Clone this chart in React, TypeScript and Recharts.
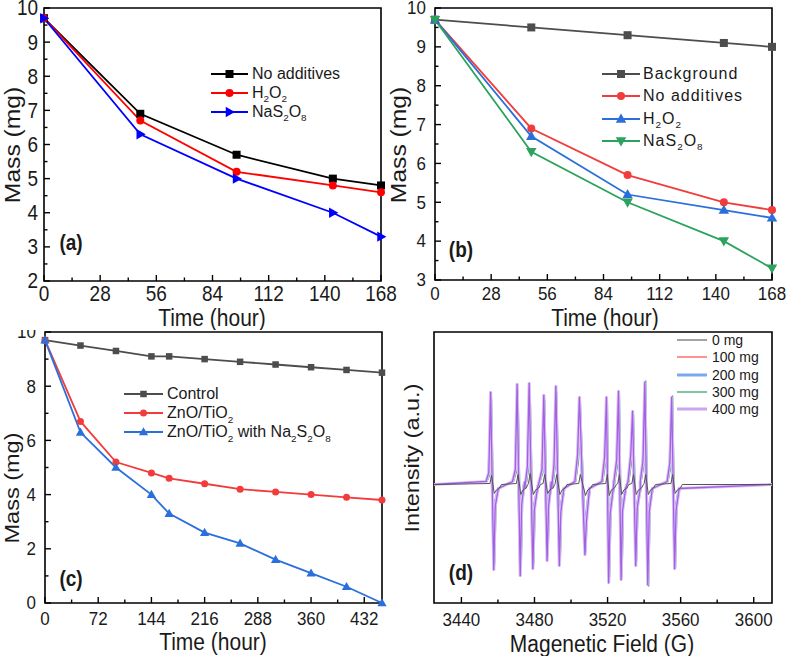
import React from 'react';
import { LineChart, Line, XAxis, YAxis, Legend, ReferenceArea, Label } from 'recharts';

const FONT = "'Liberation Sans', Arial, Helvetica, sans-serif";
const STRETCH = 1.12;

// ---------- Panel (a) ----------
const timeA = [0, 48, 96, 144, 168];
const noAdditivesA = [9.7, 6.9, 5.7, 5.0, 4.8];
const h2o2A = [9.7, 6.7, 5.2, 4.8, 4.6];
const nas2o8A = [9.7, 6.3, 5.0, 4.0, 3.3];
const xTicksAB = [0, 28, 56, 84, 112, 140, 168];
const xMinorAB = [14, 42, 70, 98, 126, 154];
const yTicksA = [2, 3, 4, 5, 6, 7, 8, 9, 10];
const yMinorA = [2.5, 3.5, 4.5, 5.5, 6.5, 7.5, 8.5, 9.5];
const legendA = ['No additives', 'H_2O_2', 'NaS_2O_8'];

// ---------- Panel (b) ----------
const timeB = [0, 48, 96, 144, 168];
const backgroundB = [9.7, 9.5, 9.3, 9.1, 9.0];
const noAdditivesB = [9.7, 6.9, 5.7, 5.0, 4.8];
const h2o2B = [9.7, 6.7, 5.2, 4.8, 4.6];
const nas2o8B = [9.7, 6.3, 5.0, 4.0, 3.3];
const yTicksB = [3, 4, 5, 6, 7, 8, 9, 10];
const yMinorB = [3.5, 4.5, 5.5, 6.5, 7.5, 8.5, 9.5];
const legendB = ['Background', 'No additives', 'H_2O_2', 'NaS_2O_8'];

// ---------- Panel (c) ----------
const timeC = [0, 48, 96, 144, 168, 216, 264, 312, 360, 408, 456];
const controlC = [9.7, 9.5, 9.3, 9.1, 9.1, 9.0, 8.9, 8.8, 8.7, 8.6, 8.5];
const znoTioC = [9.7, 6.7, 5.2, 4.8, 4.6, 4.4, 4.2, 4.1, 4.0, 3.9, 3.8];
const znoTioNaC = [9.7, 6.3, 5.0, 4.0, 3.3, 2.6, 2.2, 1.6, 1.1, 0.6, 0.0];
const xTicksC = [0, 72, 144, 216, 288, 360, 432];
const xMinorC = [36, 108, 180, 252, 324, 396];
const yTicksC = [0, 2, 4, 6, 8, 10];
const yMinorC = [1, 3, 5, 7, 9];
const legendC = ['Control', 'ZnO/TiO_2', 'ZnO/TiO_2 with Na_2S_2O_8'];

// ---------- Panel (d) EPR ----------
const eprUpField400 = [3456.0, 3470.5, 3477.1, 3485.1, 3491.7, 3504.6, 3519.4, 3526.0, 3533.7, 3540.4, 3555.1];
const eprDownField400 = [3457.7, 3472.2, 3479.1, 3486.9, 3493.6, 3507.6, 3520.6, 3527.4, 3535.4, 3542.0, 3556.7];
const eprUp400 = [9.3, 10.1, 10.2, 9.0, 9.9, 8.8, 8.8, 9.4, 7.4, 10.3, 8.8];
const eprDown400 = [-8.6, -9.2, -8.5, -7.7, -8.2, -7.1, -9.9, -9.6, -8.2, -10.1, -8.5];
const eprPre400 = [1.2, 1.5, 1.8, 1.5, 2.0, 3.0, 2.8, 2.5, 3.0, 2.4, 2.2];
const eprPost400 = [-2.2, -2.0, -2.6, -2.2, -2.8, -3.8, -3.0, -2.6, -2.4, -2.8, -2.6];

const eprUpField300 = [3456.5, 3471.0, 3477.6, 3485.6, 3492.2, 3505.1, 3519.9, 3526.5, 3534.2, 3540.9, 3555.6];
const eprDownField300 = [3458.2, 3472.7, 3479.6, 3487.4, 3494.1, 3508.1, 3521.1, 3527.9, 3535.9, 3542.5, 3557.2];
const eprUp300 = [8.6, 9.5, 9.6, 8.5, 9.2, 8.3, 8.4, 9.0, 7.0, 10.4, 8.9];
const eprDown300 = [-8.0, -8.7, -8.0, -7.2, -7.9, -6.8, -9.3, -9.3, -7.7, -10.2, -8.3];

const eprUpField200 = [3455.7, 3470.2, 3476.8, 3484.8, 3491.4, 3504.3, 3519.1, 3525.7, 3533.4, 3540.1, 3554.8];
const eprDownField200 = [3457.4, 3471.9, 3478.8, 3486.6, 3493.3, 3507.3, 3520.3, 3527.1, 3535.1, 3541.7, 3556.4];
const eprUp200 = [7.2, 7.9, 8.4, 7.1, 8.0, 7.0, 7.3, 7.9, 6.0, 8.8, 7.5];
const eprDown200 = [-7.0, -8.0, -7.2, -6.2, -7.0, -6.0, -8.0, -7.9, -6.5, -8.8, -7.2];

const eprUpField100 = [3456.3, 3470.8, 3477.4, 3485.4, 3492.0, 3504.9, 3519.7, 3526.3, 3534.0, 3540.7, 3555.4];
const eprDownField100 = [3458.0, 3472.5, 3479.4, 3487.2, 3493.9, 3507.9, 3520.9, 3527.7, 3535.7, 3542.3, 3557.0];
const eprUp100 = [6.9, 7.6, 8.0, 6.8, 7.7, 6.6, 7.0, 7.5, 5.6, 8.4, 7.2];
const eprDown100 = [-6.7, -7.6, -6.9, -5.9, -6.7, -5.7, -7.7, -7.5, -6.1, -8.4, -6.9];

const eprPreLow = [1.0, 1.2, 1.4, 1.2, 1.6, 2.4, 2.2, 2.0, 2.4, 2.0, 1.8];
const eprPostLow = [-1.8, -1.7, -2.1, -1.8, -2.3, -3.0, -2.5, -2.2, -2.0, -2.3, -2.1];

const eprUp0 = [0.9, 1.0, 1.1, 1.0, 1.0, 1.0, 1.0, 1.0, 1.0, 1.0, 1.0];
const eprDown0 = [-0.9, -1.0, -1.0, -0.9, -1.0, -1.1, -1.1, -1.0, -1.0, -1.0, -0.9];

const eprRange = [3425, 3610];
const xTicksD = [3440, 3480, 3520, 3560, 3600];
const xMinorD = [3460, 3500, 3540, 3580];
const legendD = ['0 mg', '100 mg', '200 mg', '300 mg', '400 mg'];

// ---------- data builders ----------
type Pt = { x: number; y: number };
function buildSpectrum(upF: number[], downF: number[], up: number[], down: number[], pre: number[], post: number[]): Pt[] {
  const pts: Pt[] = [{ x: eprRange[0], y: 0 }];
  upF.forEach((f, i) => {
    const d = downF[i];
    pts.push({ x: f - 2.5, y: 0.3 }, { x: f - 1, y: pre[i] }, { x: f, y: up[i] }, { x: d, y: down[i] }, { x: d + 0.8, y: post[i] }, { x: d + 2.5, y: -0.4 });
  });
  pts.push({ x: eprRange[1], y: 0 });
  return pts.sort((a, b) => a.x - b.x);
}
function buildSmall(upF: number[], downF: number[], up: number[], down: number[]): Pt[] {
  const pts: Pt[] = [{ x: eprRange[0], y: 0 }];
  upF.forEach((f, i) => {
    const d = downF[i];
    pts.push({ x: f - 0.4, y: 0.1 }, { x: f + 0.5, y: up[i] }, { x: d + 0.3, y: down[i] }, { x: d + 1.5, y: -0.55 }, { x: d + 3.2, y: -0.35 }, { x: d + 4.2, y: 0 });
  });
  pts.push({ x: eprRange[1], y: 0 });
  return pts.sort((a, b) => a.x - b.x);
}

const spec400 = buildSpectrum(eprUpField400, eprDownField400, eprUp400, eprDown400, eprPre400, eprPost400);
const spec300 = buildSpectrum(eprUpField300, eprDownField300, eprUp300, eprDown300, eprPreLow, eprPostLow);
const spec200 = buildSpectrum(eprUpField200, eprDownField200, eprUp200, eprDown200, eprPreLow, eprPostLow);
const spec100 = buildSpectrum(eprUpField100, eprDownField100, eprUp100, eprDown100, eprPreLow, eprPostLow);
const spec0 = buildSmall(eprUpField400, eprDownField400, eprUp0, eprDown0);

const rowsA = timeA.map((t, i) => ({ t, s1: noAdditivesA[i], s2: h2o2A[i], s3: nas2o8A[i] }));
const rowsB = timeB.map((t, i) => ({ t, s0: backgroundB[i], s1: noAdditivesB[i], s2: h2o2B[i], s3: nas2o8B[i] }));
const rowsC = timeC.map((t, i) => ({ t, s1: controlC[i], s2: znoTioC[i], s3: znoTioNaC[i] }));

// ---------- helpers ----------
type Shape = 'square' | 'circle' | 'triUp' | 'triDown' | 'triRight';
function Marker({ cx, cy, shape, size, color }: { cx: number; cy: number; shape: Shape; size: number; color: string }) {
  const s = size;
  if (shape === 'square') return <rect x={cx - s / 2} y={cy - s / 2} width={s} height={s} fill={color} />;
  if (shape === 'circle') return <circle cx={cx} cy={cy} r={s / 2} fill={color} />;
  if (shape === 'triUp') return <polygon points={`${cx},${cy - s * 0.6} ${cx - s * 0.58},${cy + s * 0.42} ${cx + s * 0.58},${cy + s * 0.42}`} fill={color} />;
  if (shape === 'triDown') return <polygon points={`${cx},${cy + s * 0.6} ${cx - s * 0.58},${cy - s * 0.42} ${cx + s * 0.58},${cy - s * 0.42}`} fill={color} />;
  return <polygon points={`${cx + s * 0.6},${cy} ${cx - s * 0.42},${cy - s * 0.58} ${cx - s * 0.42},${cy + s * 0.58}`} fill={color} />;
}
const makeDot = (shape: Shape, size: number, color: string) => (p: any) => (
  <Marker key={`dot-${p.index}`} cx={p.cx} cy={p.cy} shape={shape} size={size} color={color} />
);

const xTick = (majors: number[], fs: number, off: number) => (p: any) => {
  const v = p.payload.value;
  const major = majors.indexOf(v) >= 0;
  return (
    <g>
      <line x1={p.x} x2={p.x} y1={p.y} y2={p.y - (major ? 6 : 3.5)} stroke="#000" strokeWidth={1.4} />
      {major ? (
        <text transform={`translate(${p.x},${p.y + off}) scale(1,${STRETCH})`} x={0} y={0} textAnchor="middle" dominantBaseline="central" fontSize={fs} fontFamily={FONT} fill="#1a1a1a">
          {v}
        </text>
      ) : null}
    </g>
  );
};
const yTick = (majors: number[], fs: number, off: number) => (p: any) => {
  const v = p.payload.value;
  const major = majors.indexOf(v) >= 0;
  return (
    <g>
      <line x1={p.x} x2={p.x + (major ? 6 : 3.5)} y1={p.y} y2={p.y} stroke="#000" strokeWidth={1.4} />
      {major ? (
        <text transform={`translate(${p.x - off},${p.y}) scale(1,${STRETCH})`} x={0} y={0} textAnchor="end" dominantBaseline="central" fontSize={fs} fontFamily={FONT} fill="#1a1a1a">
          {v}
        </text>
      ) : null}
    </g>
  );
};
const hTitle = (text: string, x: number, y: number, fs: number) => () => (
  <text transform={`translate(${x},${y}) scale(1,${STRETCH})`} x={0} y={0} textAnchor="middle" dominantBaseline="central" fontSize={fs} fontFamily={FONT} fill="#1a1a1a">
    {text}
  </text>
);
const vTitle = (text: string, x: number, y: number, fs: number) => () => (
  <text transform={`translate(${x},${y}) rotate(-90) scale(${STRETCH},1)`} x={0} y={0} textAnchor="middle" dominantBaseline="central" fontSize={fs} fontFamily={FONT} fill="#1a1a1a">
    {text}
  </text>
);

function renderLabel(label: string) {
  const parts = label.split(/_(\d)/);
  return parts.map((part, i) =>
    i % 2 === 1 ? (
      <span key={i} style={{ fontSize: '0.62em', position: 'relative', top: '0.45em' }}>{part}</span>
    ) : (
      <span key={i}>{part}</span>
    )
  );
}

type LItem = { label: string; color: string; shape?: Shape; size?: number; lw?: number };
const makeLegend = (items: LItem[], swatch: number, rowH: number, fs: number, gap: number, spacing = 0) => () => (
  <div style={{ fontFamily: FONT, fontSize: fs, color: '#1a1a1a', letterSpacing: spacing }}>
    {items.map((it, i) => (
      <div key={i} style={{ display: 'flex', alignItems: 'center', height: rowH, whiteSpace: 'nowrap' }}>
        <svg width={swatch} height={14} style={{ display: 'block', flex: 'none' }}>
          <line x1={0} x2={swatch} y1={7} y2={7} stroke={it.color} strokeWidth={it.lw ?? 1.8} />
          {it.shape ? <Marker cx={swatch / 2} cy={7} shape={it.shape} size={it.size ?? 8} color={it.color} /> : null}
        </svg>
        <span style={{ marginLeft: gap, lineHeight: 1 }}>{renderLabel(it.label)}</span>
      </div>
    ))}
  </div>
);

const sortNum = (a: number[]) => [...a].sort((p, q) => p - q);

// colors
const RED_A = '#ff0000';
const BLUE_A = '#0000ff';
const GRAY = '#4d4d4d';
const RED = '#f23c3c';
const BLUE = '#2a6fdb';
const GREEN = '#2ba35c';

function PanelLabel({ text, x, y }: { text: string; x: number; y: number }) {
  return (
    <div style={{ position: 'absolute', left: x, top: y, transform: `translate(-50%, -50%) scale(1, ${STRETCH})`, fontFamily: FONT, fontWeight: 700, fontSize: 19, color: '#1a1a1a', lineHeight: 1 }}>
      {text}
    </div>
  );
}

export default function App() {
  return (
    <div style={{ position: 'absolute', left: 0, top: 0, width: 789, height: 656, background: '#fff', overflow: 'hidden' }}>
      {/* Panel (a) */}
      <div style={{ position: 'absolute', left: 0, top: 0 }}>
        <LineChart width={400} height={330} data={rowsA} margin={{ top: 8, right: 19, bottom: 0, left: 0 }}>
          <XAxis type="number" dataKey="t" domain={[0, 168]} ticks={sortNum([...xTicksAB, ...xMinorAB])} interval={0} tickSize={0} tickMargin={0} axisLine={false} tickLine={false} height={49} tick={xTick(xTicksAB, 19, 13)}>
            <Label content={hTitle('Time (hour)', 212, 318, 21)} />
          </XAxis>
          <YAxis type="number" domain={[2, 10]} ticks={sortNum([...yTicksA, ...yMinorA])} interval={0} tickSize={0} tickMargin={0} axisLine={false} tickLine={false} width={44} tick={yTick(yTicksA, 19, 6)}>
            <Label content={vTitle('Mass (mg)', 12, 145, 22)} />
          </YAxis>
          <ReferenceArea x1={0} x2={168} y1={2} y2={10} fill="none" stroke="#000" strokeWidth={1.6} />
          <Line type="linear" dataKey="s1" stroke="#000" strokeWidth={1.8} dot={makeDot('square', 8, '#000')} isAnimationActive={false} />
          <Line type="linear" dataKey="s2" stroke={RED_A} strokeWidth={1.8} dot={makeDot('circle', 8, RED_A)} isAnimationActive={false} />
          <Line type="linear" dataKey="s3" stroke={BLUE_A} strokeWidth={1.8} dot={makeDot('triRight', 9, BLUE_A)} isAnimationActive={false} />
          <Legend layout="vertical" align="center" verticalAlign="middle" wrapperStyle={{ left: 211, top: 64.5, width: 180, margin: 0 }}
            content={makeLegend([
              { label: legendA[0], color: '#000', shape: 'square', size: 8 },
              { label: legendA[1], color: RED_A, shape: 'circle', size: 8 },
              { label: legendA[2], color: BLUE_A, shape: 'triRight', size: 9 },
            ], 37, 19, 16, 4)} />
        </LineChart>
      </div>

      {/* Panel (b) */}
      <div style={{ position: 'absolute', left: 385, top: 0 }}>
        <LineChart width={404} height={330} data={rowsB} margin={{ top: 8, right: 17, bottom: 0, left: 0 }}>
          <XAxis type="number" dataKey="t" domain={[0, 168]} ticks={sortNum([...xTicksAB, ...xMinorAB])} interval={0} tickSize={0} tickMargin={0} axisLine={false} tickLine={false} height={50} tick={xTick(xTicksAB, 17, 14)}>
            <Label content={hTitle('Time (hour)', 220, 318, 21)} />
          </XAxis>
          <YAxis type="number" domain={[3, 10]} ticks={sortNum([...yTicksB, ...yMinorB])} interval={0} tickSize={0} tickMargin={0} axisLine={false} tickLine={false} width={50} tick={yTick(yTicksB, 17, 9)}>
            <Label content={vTitle('Mass (mg)', 13, 145, 22)} />
          </YAxis>
          <ReferenceArea x1={0} x2={168} y1={3} y2={10} fill="none" stroke="#000" strokeWidth={1.6} />
          <Line type="linear" dataKey="s0" stroke={GRAY} strokeWidth={1.8} dot={makeDot('square', 8, GRAY)} isAnimationActive={false} />
          <Line type="linear" dataKey="s1" stroke={RED} strokeWidth={1.8} dot={makeDot('circle', 8, RED)} isAnimationActive={false} />
          <Line type="linear" dataKey="s2" stroke={BLUE} strokeWidth={1.8} dot={makeDot('triUp', 9, BLUE)} isAnimationActive={false} />
          <Line type="linear" dataKey="s3" stroke={GREEN} strokeWidth={1.8} dot={makeDot('triDown', 9, GREEN)} isAnimationActive={false} />
          <Legend layout="vertical" align="center" verticalAlign="middle" wrapperStyle={{ left: 217, top: 63, width: 180, margin: 0 }}
            content={makeLegend([
              { label: legendB[0], color: GRAY, shape: 'square', size: 8 },
              { label: legendB[1], color: RED, shape: 'circle', size: 8 },
              { label: legendB[2], color: BLUE, shape: 'triUp', size: 9 },
              { label: legendB[3], color: GREEN, shape: 'triDown', size: 9 },
            ], 38, 22.3, 16, 3, 1)} />
        </LineChart>
      </div>

      {/* Panel (c) */}
      <div style={{ position: 'absolute', left: 0, top: 330 }}>
        <LineChart width={400} height={326} data={rowsC} margin={{ top: 2, right: 18, bottom: 0, left: 0 }}>
          <XAxis type="number" dataKey="t" domain={[0, 456]} ticks={sortNum([...xTicksC, ...xMinorC])} interval={0} tickSize={0} tickMargin={0} axisLine={false} tickLine={false} height={53} tick={xTick(xTicksC, 17, 16)}>
            <Label content={hTitle('Time (hour)', 213, 312, 21)} />
          </XAxis>
          <YAxis type="number" domain={[0, 10]} ticks={sortNum([...yTicksC, ...yMinorC])} interval={0} tickSize={0} tickMargin={0} axisLine={false} tickLine={false} width={45} tick={yTick(yTicksC, 17, 9)}>
            <Label content={vTitle('Mass (mg)', 12, 158, 21)} />
          </YAxis>
          <ReferenceArea x1={0} x2={456} y1={0} y2={10} fill="none" stroke="#000" strokeWidth={1.6} />
          <Line type="linear" dataKey="s1" stroke={GRAY} strokeWidth={1.8} dot={makeDot('square', 6.5, GRAY)} isAnimationActive={false} />
          <Line type="linear" dataKey="s2" stroke={RED} strokeWidth={1.8} dot={makeDot('circle', 7, RED)} isAnimationActive={false} />
          <Line type="linear" dataKey="s3" stroke={BLUE} strokeWidth={1.8} dot={makeDot('triUp', 8, BLUE)} isAnimationActive={false} />
          <Legend layout="vertical" align="center" verticalAlign="middle" wrapperStyle={{ left: 124, top: 54.8, width: 260, margin: 0 }}
            content={makeLegend([
              { label: legendC[0], color: GRAY, shape: 'square', size: 6.5 },
              { label: legendC[1], color: RED, shape: 'circle', size: 7 },
              { label: legendC[2], color: BLUE, shape: 'triUp', size: 8 },
            ], 39, 19, 16, 4)} />
        </LineChart>
      </div>

      {/* Panel (d) */}
      <div style={{ position: 'absolute', left: 385, top: 330 }}>
        <LineChart width={404} height={326} margin={{ top: 2, right: 17, bottom: 0, left: 0 }}>
          <XAxis type="number" dataKey="x" domain={eprRange} allowDataOverflow ticks={sortNum([...xTicksD, ...xMinorD])} interval={0} tickSize={0} tickMargin={0} axisLine={false} tickLine={false} height={53} tick={xTick(xTicksD, 17, 17)}>
            <Label content={hTitle('Magenetic Field (G)', 217, 314, 21)} />
          </XAxis>
          <YAxis type="number" dataKey="y" domain={[-11.85, 15.25]} allowDataOverflow tick={false} axisLine={false} tickLine={false} width={49}>
            <Label content={vTitle('Intensity (a.u.)', 27, 128, 21)} />
          </YAxis>
          <ReferenceArea x1={eprRange[0]} x2={eprRange[1]} y1={-11.85} y2={15.25} fill="none" stroke="#000" strokeWidth={1.6} />
          <Line data={spec100} type="linear" dataKey="y" stroke="#ff4a4a" strokeWidth={1.3} dot={false} isAnimationActive={false} />
          <Line data={spec200} type="linear" dataKey="y" stroke="#4f8ff0" strokeWidth={1.6} dot={false} isAnimationActive={false} />
          <Line data={spec300} type="linear" dataKey="y" stroke={GREEN} strokeWidth={1.3} dot={false} isAnimationActive={false} />
          <Line data={spec400} type="linear" dataKey="y" stroke="#dcc4f4" strokeWidth={3.2} dot={false} isAnimationActive={false} legendType="none" />
          <Line data={spec400} type="linear" dataKey="y" stroke="#a45fe4" strokeWidth={1.3} dot={false} isAnimationActive={false} />
          <Line data={spec0} type="linear" dataKey="y" stroke="#555555" strokeWidth={1} dot={false} isAnimationActive={false} />
          <Legend layout="vertical" align="center" verticalAlign="middle" wrapperStyle={{ left: 292, top: 1.4, width: 110, margin: 0 }}
            content={makeLegend([
              { label: legendD[0], color: '#666666', lw: 1.2 },
              { label: legendD[1], color: '#ff4a4a', lw: 1.2 },
              { label: legendD[2], color: '#7aa8f0', lw: 3 },
              { label: legendD[3], color: GREEN, lw: 1.2 },
              { label: legendD[4], color: '#c9a6ee', lw: 3 },
            ], 30, 17.3, 14, 5)} />
        </LineChart>
      </div>

      <PanelLabel text="(a)" x={71} y={243} />
      <PanelLabel text="(b)" x={461} y={250} />
      <PanelLabel text="(c)" x={71} y={579} />
      <PanelLabel text="(d)" x={461} y={573} />
    </div>
  );
}
